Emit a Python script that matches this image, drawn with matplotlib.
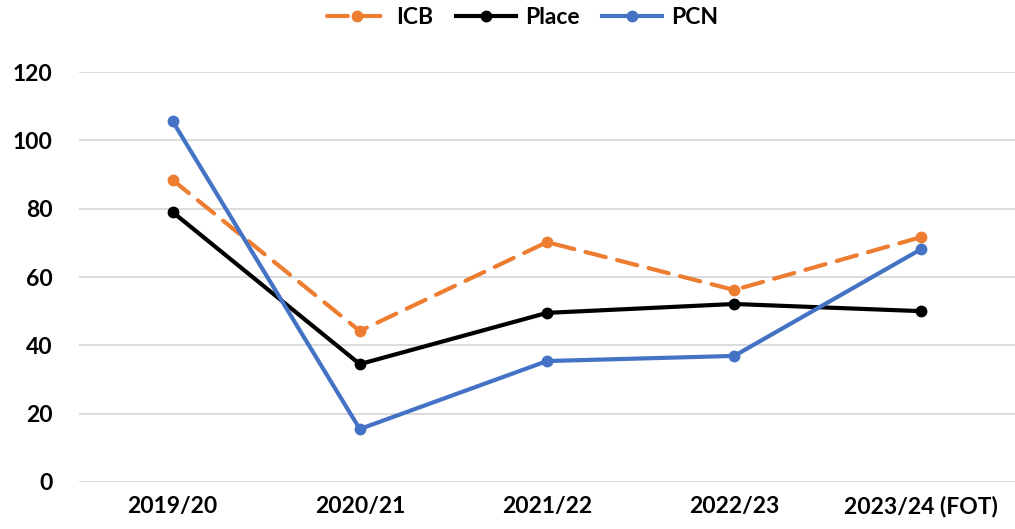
import matplotlib
matplotlib.use('Agg')
import matplotlib.pyplot as plt

# Data
years = ['2019/20', '2020/21', '2021/22', '2022/23', '2023/24 (FOT)']
icb = [88.4, 44.2, 70.2, 56.2, 71.7]
place = [79.0, 34.5, 49.5, 52.1, 50.0]
pcn = [105.6, 15.5, 35.4, 36.9, 68.2]

plt.rcParams['font.family'] = ['Lato', 'DejaVu Sans']

fig = plt.figure(figsize=(10.15, 5.29), dpi=100)
ax = fig.add_axes([79 / 1015, 47 / 529, 936 / 1015, 410 / 529])

x = range(len(years))
ax.plot(x, icb, color='#ED7D31', linewidth=3, linestyle=(0, (5, 2.8)),
        dash_capstyle='round', marker='o', markersize=7.5, label='ICB', zorder=3)
ax.plot(x, place, color='black', linewidth=3, marker='o', markersize=7.5,
        label='Place', zorder=3)
ax.plot(x, pcn, color='#4472C4', linewidth=3, marker='o', markersize=7.5,
        label='PCN', zorder=3)

ax.set_xlim(-0.5, 4.5)
ax.set_ylim(0, 120)
ax.set_yticks(range(0, 121, 20))
ax.set_xticks(list(x))
ax.set_xticklabels(years)
ax.grid(axis='y', color='#d9d9d9', linewidth=1.3)
ax.set_axisbelow(True)
for s in ax.spines.values():
    s.set_visible(False)
ax.tick_params(length=0, labelsize=16.5)
for lbl in ax.get_xticklabels() + ax.get_yticklabels():
    lbl.set_fontweight('bold')
ax.tick_params(axis='y', pad=19)
ax.tick_params(axis='x', pad=10)

fig.legend(loc='center', bbox_to_anchor=(0.515, 0.966), ncol=3, frameon=False,
           prop={'weight': 'bold', 'size': 16.5}, handlelength=2.6,
           columnspacing=1.0, handletextpad=0.4)

plt.savefig('out.png', dpi=100)
plt.close()
